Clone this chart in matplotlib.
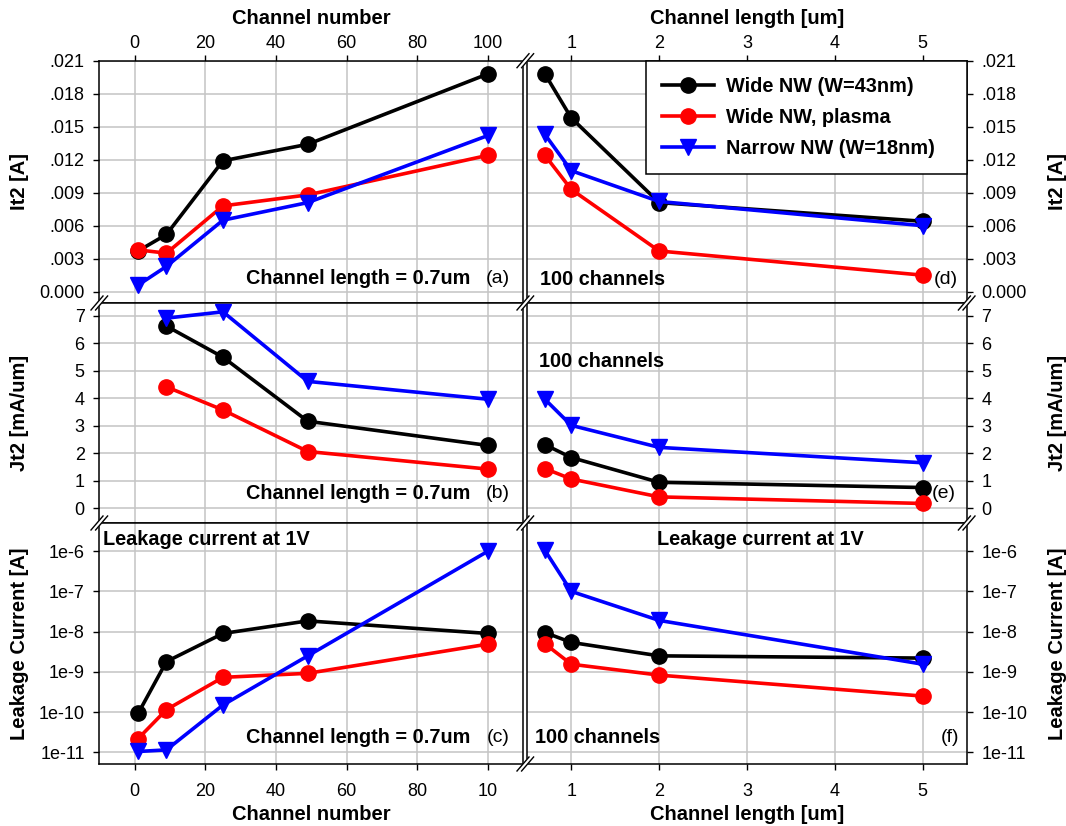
import matplotlib
matplotlib.use("Agg")
import matplotlib.pyplot as plt
from matplotlib.lines import Line2D

plt.rcParams['font.family'] = ['Liberation Sans', 'DejaVu Sans']

# ---------------- data ----------------
channels = [1, 9, 25, 49, 100]
channels_jt2 = [9, 25, 49, 100]
lengths = [0.7, 1, 2, 5]

series_names = ["Wide NW (W=43nm)", "Wide NW, plasma", "Narrow NW (W=18nm)"]

it2_ch_wide = [0.0037, 0.0052, 0.0119, 0.0134, 0.0198]
it2_ch_plasma = [0.0038, 0.0035, 0.0078, 0.0088, 0.0124]
it2_ch_narrow = [0.0006, 0.0023, 0.0065, 0.0081, 0.0142]

it2_L_wide = [0.0198, 0.0158, 0.0081, 0.0064]
it2_L_plasma = [0.0124, 0.0093, 0.0037, 0.0015]
it2_L_narrow = [0.0143, 0.0110, 0.0082, 0.0060]

jt2_ch_wide = [6.63, 5.50, 3.17, 2.29]
jt2_ch_plasma = [4.42, 3.58, 2.07, 1.43]
jt2_ch_narrow = [6.92, 7.15, 4.62, 3.97]

jt2_L_wide = [2.32, 1.85, 0.95, 0.76]
jt2_L_plasma = [1.45, 1.07, 0.42, 0.18]
jt2_L_narrow = [3.97, 3.02, 2.22, 1.66]

leak_ch_wide = [9.3e-11, 1.8e-9, 9.0e-9, 1.85e-8, 9.0e-9]
leak_ch_plasma = [2.2e-11, 1.15e-10, 7.3e-10, 9.2e-10, 4.9e-9]
leak_ch_narrow = [1.05e-11, 1.15e-11, 1.5e-10, 2.5e-9, 1.0e-6]

leak_L_wide = [9.5e-9, 5.4e-9, 2.5e-9, 2.2e-9]
leak_L_plasma = [5.0e-9, 1.55e-9, 8.3e-10, 2.5e-10]
leak_L_narrow = [1.05e-6, 1.0e-7, 1.9e-8, 1.55e-9]

it2_ticks = [0.0, 0.003, 0.006, 0.009, 0.012, 0.015, 0.018, 0.021]
it2_labels = ['0.000', '.003', '.006', '.009', '.012', '.015', '.018', '.021']
jt2_ticks = [0, 1, 2, 3, 4, 5, 6, 7]
leak_ticks = [1e-11, 1e-10, 1e-9, 1e-8, 1e-7, 1e-6]
leak_labels = ['1e-11', '1e-10', '1e-9', '1e-8', '1e-7', '1e-6']
ch_ticks = [0, 20, 40, 60, 80, 100]
ch_top_labels = ['0', '20', '40', '60', '80', '100']
ch_bottom_labels = ['0', '20', '40', '60', '80', '10']
len_ticks = [1, 2, 3, 4, 5]

# ---------------- layout ----------------
W, H = 1066, 826
fig = plt.figure(figsize=(W / 100, H / 100), dpi=100)


def box(x0, y0, x1, y1):
    return [x0 / W, 1 - y1 / H, (x1 - x0) / W, (y1 - y0) / H]


col_x = [(99.3, 523.3), (527.3, 966.7)]
row_y = [(60.7, 303.0), (303.0, 523.0), (523.0, 764.0)]

colors = ['black', 'red', 'blue']
markers = ['o', 'o', 'v']
msizes = [11, 11, 12]

data = {
    (0, 0): (channels, [it2_ch_wide, it2_ch_plasma, it2_ch_narrow]),
    (0, 1): (lengths, [it2_L_wide, it2_L_plasma, it2_L_narrow]),
    (1, 0): (channels_jt2, [jt2_ch_wide, jt2_ch_plasma, jt2_ch_narrow]),
    (1, 1): (lengths, [jt2_L_wide, jt2_L_plasma, jt2_L_narrow]),
    (2, 0): (channels, [leak_ch_wide, leak_ch_plasma, leak_ch_narrow]),
    (2, 1): (lengths, [leak_L_wide, leak_L_plasma, leak_L_narrow]),
}

ylabels = ['It2 [A]', 'Jt2 [mA/um]', 'Leakage Current [A]']
LAB = 14.5
axes = {}
for r in range(3):
    for c in range(2):
        ax = fig.add_axes(box(col_x[c][0], row_y[r][0], col_x[c][1], row_y[r][1]))
        axes[(r, c)] = ax
        xs, ys = data[(r, c)]
        for k in range(3):
            ax.plot(xs, ys[k], color=colors[k], marker=markers[k], ms=msizes[k],
                    lw=2.6, label=series_names[k], zorder=3 + k, clip_on=False)
        if r == 2:
            ax.set_yscale('log')
            ax.set_ylim(10 ** -11.29, 10 ** -5.30)
            ax.set_yticks(leak_ticks)
            ax.set_yticklabels(leak_labels)
            ax.yaxis.set_minor_locator(matplotlib.ticker.NullLocator())
        elif r == 1:
            ax.set_ylim(-0.53, 7.47)
            ax.set_yticks(jt2_ticks)
            ax.set_yticklabels([str(t) for t in jt2_ticks])
        else:
            ax.set_ylim(-0.00103, 0.021)
            ax.set_yticks(it2_ticks)
            ax.set_yticklabels(it2_labels)
        if c == 0:
            ax.set_xlim(-10, 110)
            ax.set_xticks(ch_ticks)
        else:
            ax.set_xlim(0.5, 5.5)
            ax.set_xticks(len_ticks)
        ax.grid(True, color='#c4c4c4', lw=1.1)
        ax.set_axisbelow(True)
        for s in ax.spines.values():
            s.set_linewidth(1.1)
            s.set_color('black')
        ax.tick_params(direction='out', length=4.5, width=1.0, labelsize=13,
                       colors='black')
        ax.tick_params(axis='y', pad=6)
        # y axis side
        if c == 0:
            ax.yaxis.tick_left()
            ax.set_ylabel(ylabels[r], fontsize=LAB, fontweight='bold')
            ax.yaxis.set_label_coords(-0.166, 0.5)
        else:
            ax.yaxis.tick_right()
            ax.yaxis.set_label_position('right')
            ax.set_ylabel(ylabels[r], fontsize=LAB, fontweight='bold')
            ax.yaxis.set_label_coords(1.185, 0.5)
        # x axis
        if r == 0:
            ax.tick_params(axis='x', top=True, labeltop=True, bottom=True,
                           labelbottom=False, pad=2)
            if c == 0:
                ax.set_xticklabels(ch_top_labels)
            ax.xaxis.set_label_position('top')
            ax.set_xlabel('Channel number' if c == 0 else 'Channel length [um]',
                          fontsize=LAB, fontweight='bold', labelpad=8)
        elif r == 1:
            ax.tick_params(axis='x', top=False, labeltop=False, bottom=True, labelbottom=False)
        else:
            ax.tick_params(axis='x', top=False, bottom=True, labelbottom=True, pad=9)
            if c == 0:
                ax.set_xticklabels(ch_bottom_labels)
            ax.set_xlabel('Channel number' if c == 0 else 'Channel length [um]',
                          fontsize=LAB, fontweight='bold', labelpad=3.5)

# ---------------- annotations ----------------
bold = dict(fontsize=14.3, fontweight='bold')
reg = dict(fontsize=14)
for r, lab in [(0, '(a)'), (1, '(b)'), (2, '(c)')]:
    ax = axes[(r, 0)]
    yy = [0.103, 0.132, 0.108][r]
    ax.text(0.874, yy, 'Channel length = 0.7um', transform=ax.transAxes,
            ha='right', va='center', **bold)
    ax.text(0.940, yy, lab, transform=ax.transAxes, ha='center', va='center', **reg)

axes[(2, 0)].text(0.008, 0.93, 'Leakage current at 1V', transform=axes[(2, 0)].transAxes,
                  ha='left', va='center', **bold)

axd = axes[(0, 1)]
axd.text(0.029, 0.095, '100 channels', transform=axd.transAxes, ha='left', va='center', **bold)
axd.text(0.952, 0.095, '(d)', transform=axd.transAxes, ha='center', va='center', **reg)
axe = axes[(1, 1)]
axe.text(0.027, 0.736, '100 channels', transform=axe.transAxes, ha='left', va='center', **bold)
axe.text(0.948, 0.132, '(e)', transform=axe.transAxes, ha='center', va='center', **reg)
axf = axes[(2, 1)]
axf.text(0.53, 0.93, 'Leakage current at 1V', transform=axf.transAxes, ha='center', va='center', **bold)
axf.text(0.018, 0.11, '100 channels', transform=axf.transAxes, ha='left', va='center', **bold)
axf.text(0.962, 0.108, '(f)', transform=axf.transAxes, ha='center', va='center', **reg)

# ---------------- legend ----------------
leg = axd.legend(loc='upper right', bbox_to_anchor=(0.271, 0.53, 0.729, 0.47),
                 mode='expand', borderaxespad=0, frameon=True, fancybox=False,
                 edgecolor='black', framealpha=1, numpoints=1, handlelength=2.6,
                 handletextpad=0.6, borderpad=0.8, labelspacing=0.62,
                 prop={'weight': 'bold', 'size': 14.3})
leg.get_frame().set_linewidth(1.1)
leg.set_zorder(10)

# ---------------- axis break marks ----------------
break_pts = [(99.3, 303.0), (99.3, 523.0), (525.3, 60.7), (525.3, 303.0),
             (525.3, 523.0), (525.3, 764.0), (966.7, 303.0), (966.7, 523.0)]


def fig_xy(xp, yp):
    return xp / W, 1 - yp / H


for (bx, by) in break_pts:
    x0, y0 = fig_xy(bx - 6, by + 7)
    x1, y1 = fig_xy(bx + 6, by - 7)
    fig.add_artist(Line2D([x0, x1], [y0, y1], transform=fig.transFigure,
                          color='white', lw=3.0, zorder=20))
    for d in (-2.3, 2.3):
        x0, y0 = fig_xy(bx - 6 + d, by + 7)
        x1, y1 = fig_xy(bx + 6 + d, by - 7)
        fig.add_artist(Line2D([x0, x1], [y0, y1], transform=fig.transFigure,
                              color='black', lw=1.0, zorder=21))

fig.savefig('out.png', dpi=100)
